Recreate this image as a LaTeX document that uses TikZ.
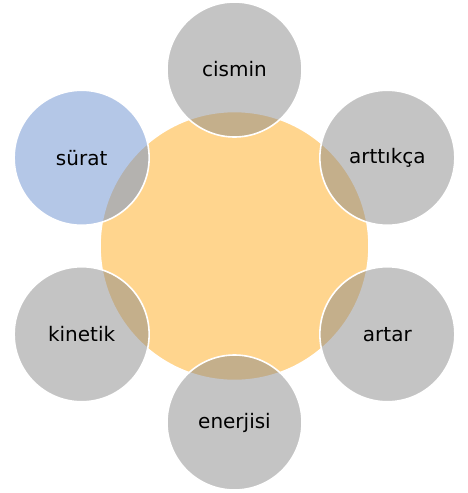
\documentclass[tikz,border=0pt]{standalone}
\usepackage{fontspec}
\setmainfont{DejaVu Sans}
\definecolor{orangefill}{HTML}{FFD58E}
\definecolor{grayfill}{HTML}{8A8A8A}
\definecolor{bluefill}{HTML}{6A90D0}
\tikzset{
  hub/.style={circle, fill=orangefill, draw=white, line width=1.6pt, minimum size=269pt, inner sep=0pt},
  sat/.style={circle, fill=grayfill, fill opacity=0.5, text opacity=1, draw=white, draw opacity=1, line width=1.6pt, minimum size=135pt, inner sep=0pt, font=\fontsize{20}{24}\selectfont},
  satblue/.style={sat, fill=bluefill}
}
\begin{document}
\begin{tikzpicture}[x=1pt,y=-1pt]
\useasboundingbox (0,0) rectangle (468,493);
\node[hub] (hub) at (234.5,246) {};
\node[sat] (cismin) at (234.5,69.5) {cismin};
\node[sat] (arttikca) at (387.35,157.75) {arttıkça};
\node[sat] (artar) at (387.35,334.25) {artar};
\node[sat] (enerjisi) at (234.5,422.5) {enerjisi};
\node[sat] (kinetik) at (81.65,334.25) {kinetik};
\node[satblue] (surat) at (81.65,157.75) {sürat};
\end{tikzpicture}
\end{document}
